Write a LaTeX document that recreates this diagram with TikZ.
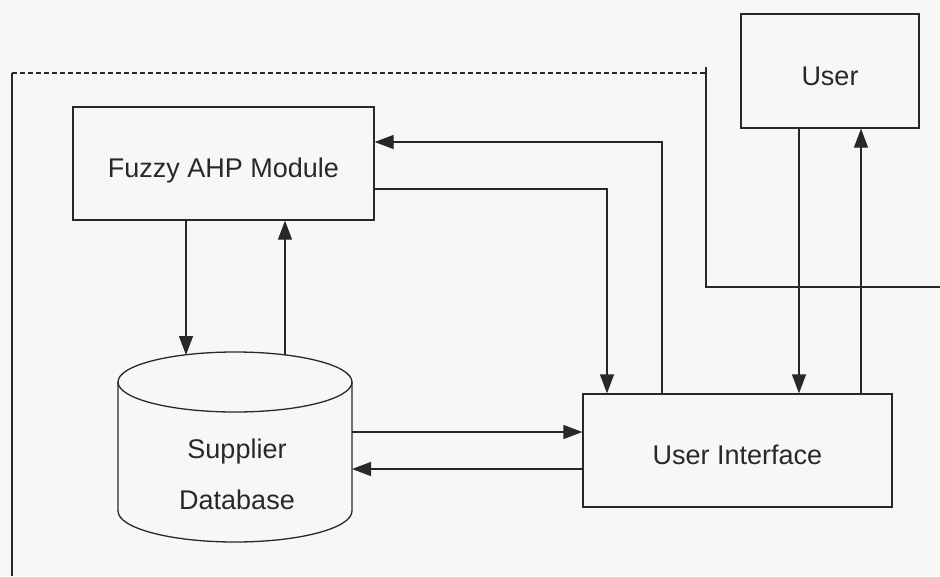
\documentclass[tikz,border=0pt]{standalone}
\usepackage{fontspec}
\setmainfont{Liberation Sans}
\usetikzlibrary{arrows.meta}
\definecolor{bgc}{RGB}{247,247,247}
\definecolor{ink}{RGB}{40,40,40}
\begin{document}
\begin{tikzpicture}[x=1pt,y=-1pt,
  box/.style={draw=ink,line width=1.3pt,rectangle,inner sep=0pt,text height=28pt,text depth=0pt,font=\fontsize{27}{32}\selectfont,text=ink},
  lbl/.style={font=\fontsize{27}{32}\selectfont,text=ink},
  conn/.style={draw=ink,line width=1.3pt},
  arr/.style={conn,-{Triangle[length=19pt,width=14pt]}}]
\fill[bgc] (0,0) rectangle (940,576);
\useasboundingbox (0,0) rectangle (940,576);
% boundary lines
\coordinate (tl) at (12,73);
\coordinate (tr) at (706,73);
\coordinate (bl) at (12,576);
\coordinate (vr) at (706,67);
\coordinate (vc) at (706,287);
\coordinate (ve) at (940,287);
\draw[conn,dash pattern=on 5pt off 3pt] (tl) -- (tr);
\draw[conn] (tl) -- (bl);
\draw[conn] (vr) -- (vc) -- (ve);
% nodes
\node[box,minimum width=301pt,minimum height=113pt] (fuzzy) at (223.5,163.5) {Fuzzy AHP Module};
\node[box,minimum width=178pt,minimum height=114pt] (user) at (830,71) {User};
\node[box,minimum width=309pt,minimum height=113pt] (ui) at (737.5,450.5) {User Interface};
% database cylinder
\node[inner sep=0pt,minimum width=234pt,minimum height=190pt] (db) at (235,447) {};
\draw[conn] (235,382) ellipse[x radius=117,y radius=30];
\draw[conn] (118,382) -- (118,511) arc[start angle=180,end angle=0,x radius=117,y radius=31] -- (352,382);
\node[lbl] (dbt1) at (237,452) {Supplier};
\node[lbl] (dbt2) at (237,500) {Database};
\coordinate (dbin) at (186,355);
\coordinate (dbout) at (285,355);
% connectors fuzzy <-> db
\draw[arr] (fuzzy.south -| dbin) -- (dbin);
\draw[arr] (dbout) -- (fuzzy.south -| dbout);
% db <-> ui
\draw[arr] (352,432) -- (ui.west |- 0,432);
\draw[arr] (ui.west |- 0,469) -- (352,469);
% fuzzy <-> ui
\draw[arr] (fuzzy.east |- 0,189) -| (ui.north -| 607,0);
\draw[arr] (ui.north -| 662,0) |- (fuzzy.east |- 0,142);
% user <-> ui
\draw[arr] (user.south -| 799,0) -- (ui.north -| 799,0);
\draw[arr] (ui.north -| 861,0) -- (user.south -| 861,0);
\end{tikzpicture}
\end{document}
